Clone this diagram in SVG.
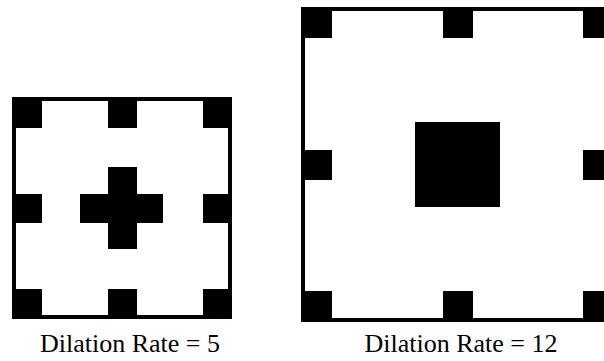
<svg xmlns="http://www.w3.org/2000/svg" width="604" height="361" viewBox="0 0 604 361">
<style>
.frame{fill:#fff;stroke:#000;stroke-width:4}
.cell{fill:#000}
.lbl{font-family:"Liberation Serif","Times New Roman",serif;font-size:26px;fill:#000;text-anchor:middle}
</style>
<rect width="604" height="361" fill="#fff"/>
<g id="kernel5">
<rect class="frame" x="14" y="99" width="216" height="218"/>
<rect class="cell" x="12" y="97" width="30" height="31"/>
<rect class="cell" x="108" y="97" width="29" height="31"/>
<rect class="cell" x="203" y="97" width="29" height="31"/>
<rect class="cell" x="12" y="194" width="30" height="29"/>
<rect class="cell" x="203" y="194" width="29" height="29"/>
<rect class="cell" x="12" y="289" width="30" height="30"/>
<rect class="cell" x="108" y="289" width="29" height="30"/>
<rect class="cell" x="203" y="289" width="29" height="30"/>
<rect class="cell" x="108" y="167" width="29" height="82"/>
<rect class="cell" x="80" y="194" width="83" height="29"/>
<text class="lbl" x="130" y="352">Dilation Rate = 5</text>
</g>
<g id="kernel12">
<rect class="frame" x="303" y="9" width="311" height="311"/>
<rect class="cell" x="301" y="7" width="31" height="31"/>
<rect class="cell" x="443" y="7" width="30" height="31"/>
<rect class="cell" x="583" y="7" width="33" height="31"/>
<rect class="cell" x="301" y="150" width="31" height="30"/>
<rect class="cell" x="583" y="150" width="33" height="30"/>
<rect class="cell" x="301" y="291" width="31" height="31"/>
<rect class="cell" x="443" y="291" width="30" height="31"/>
<rect class="cell" x="583" y="291" width="33" height="31"/>
<rect class="cell" x="415" y="122" width="85" height="85"/>
<text class="lbl" x="461" y="352">Dilation Rate = 12</text>
</g>
<g id="connectors"/>
</svg>
